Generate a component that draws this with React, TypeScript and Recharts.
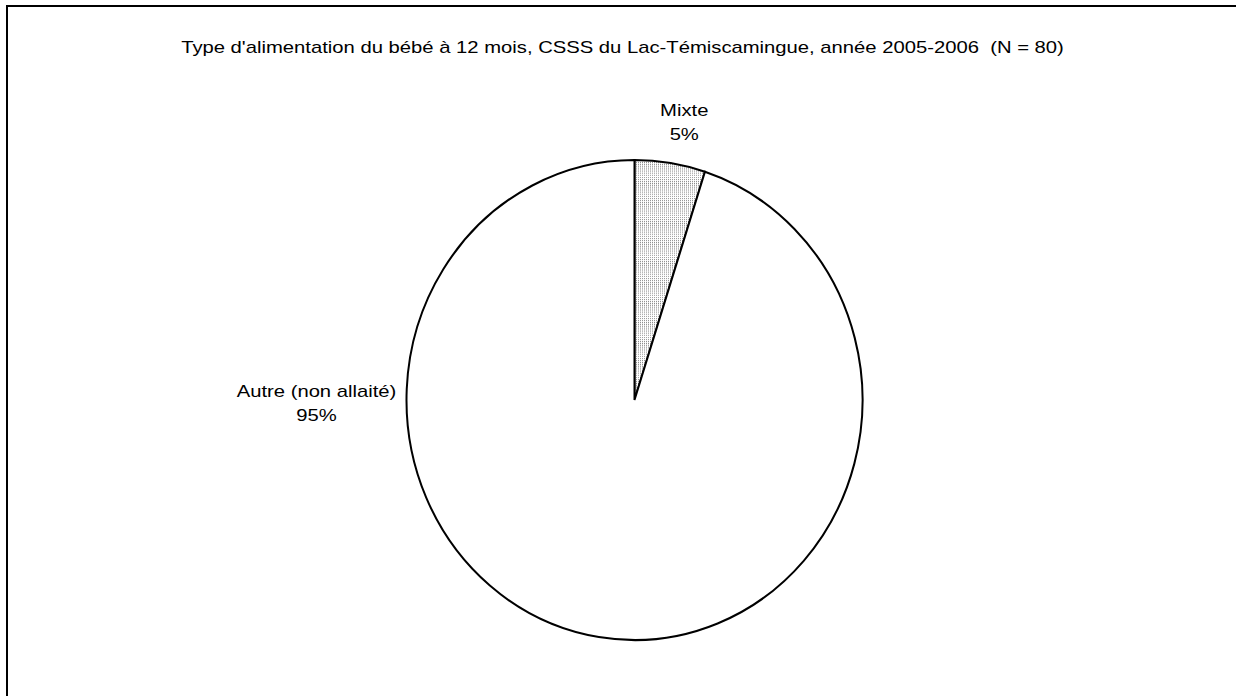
import { PieChart, Pie, Cell } from "recharts";

const title =
  "Type d'alimentation du bébé à 12 mois, CSSS du Lac-Témiscamingue, année 2005-2006  (N = 80)";
const categories = ["Mixte", "Autre (non allaité)"];
const shares = [5, 95];

const data = categories.map((name, i) => ({ name, value: shares[i] }));

// the source picture is stretched: pie taller than wide, text wider than high
const SY = 240 / 228;
const SX_TEXT = 1.19;
const CX = 634.5;
const CY = 400;
const R = 228;
const FONT = "'Liberation Sans', Arial, sans-serif";

const renderLabel = (props: any) => {
  const { cx, cy, midAngle, outerRadius, name, percent } = props;
  // big slice goes to the left side, like Excel's best fit
  const ang = percent > 0.5 ? 180 : midAngle;
  const rad = (ang * Math.PI) / 180;
  const cos = Math.cos(rad);
  const sin = Math.sin(rad);
  const ex = cx + outerRadius * cos;
  const ey = cy - outerRadius * sin * SY;
  const lx = ex + 90 * cos;
  const ly = ey - 44 * sin + 3;
  const svgY = cy + (ly - cy) / SY;
  return (
    <g transform={`translate(${lx},${svgY}) scale(${SX_TEXT},${1 / SY})`}>
      <text
        x={0}
        y={-12}
        textAnchor="middle"
        dominantBaseline="central"
        fontFamily={FONT}
        fontSize={17}
        fill="#000"
      >
        {name}
      </text>
      <text
        x={0}
        y={12}
        textAnchor="middle"
        dominantBaseline="central"
        fontFamily={FONT}
        fontSize={17}
        fill="#000"
      >
        {`${Math.round(percent * 100)}%`}
      </text>
    </g>
  );
};

export default function App() {
  return (
    <div
      style={{
        position: "fixed",
        left: 0,
        top: 0,
        width: 1236,
        height: 696,
        overflow: "hidden",
        background: "#fff",
      }}
    >
      <div
        style={{
          position: "absolute",
          left: 6,
          top: 5,
          width: 1300,
          height: 760,
          borderTop: "2px solid #000",
          borderLeft: "2px solid #000",
        }}
      />
      <div
        style={{
          position: "absolute",
          left: 0,
          width: 1245,
          top: 37,
          textAlign: "center",
          fontFamily: FONT,
          fontSize: 17,
          lineHeight: "22px",
          whiteSpace: "pre",
          transform: `scaleX(${SX_TEXT})`,
          transformOrigin: "622.5px 0",
        }}
      >
        {title}
      </div>
      <div
        style={{
          position: "absolute",
          left: 0,
          top: 0,
          transform: `scale(1, ${SY})`,
          transformOrigin: `${CX}px ${CY}px`,
        }}
      >
        <PieChart
          width={1236}
          height={696}
          margin={{ top: 0, right: 0, bottom: 0, left: 0 }}
        >
          <defs>
            <pattern
              id="dots"
              width={2}
              height={2}
              patternUnits="userSpaceOnUse"
            >
              <rect width={2} height={2} fill="#fff" />
              <rect width={1} height={1} fill="#8a8a8a" />
            </pattern>
          </defs>
          <Pie
            data={data}
            dataKey="value"
            nameKey="name"
            cx={CX}
            cy={CY}
            outerRadius={R}
            startAngle={90}
            endAngle={-270}
            stroke="#000"
            strokeWidth={2}
            label={renderLabel}
            labelLine={false}
            isAnimationActive={false}
          >
            <Cell fill="url(#dots)" />
            <Cell fill="#fff" />
          </Pie>
        </PieChart>
      </div>
    </div>
  );
}
